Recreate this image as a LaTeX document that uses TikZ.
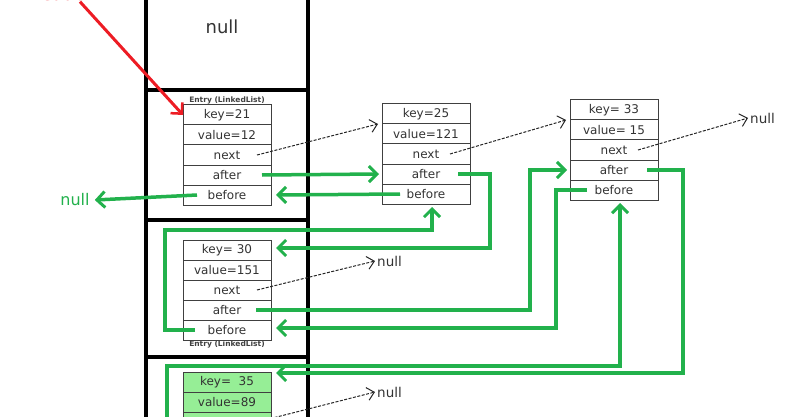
\documentclass[tikz,border=0pt]{standalone}
\usepackage{fontspec}
\setmainfont{DejaVu Sans}
\usetikzlibrary{positioning,calc,arrows.meta}
\usepackage{xcolor}

\definecolor{vertpaint}{RGB}{34,177,76}
\definecolor{vertclair}{RGB}{150,238,150}
\definecolor{rougepaint}{RGB}{237,28,36}

\tikzset{
  cell/.style={draw=black!75, line width=1pt, minimum width=88pt, minimum height=20pt,
    inner sep=0pt, outer sep=0pt, text=black!80, font=\fontsize{12}{12}\selectfont},
  etiq/.style={inner sep=1pt, text=black!75, font=\bfseries\fontsize{7.5}{8}\selectfont},
  nul/.style={inner sep=2pt, text=black!80, font=\fontsize{13.5}{14}\selectfont},
  mur/.style={line width=3.5pt, line cap=rect},
  lien/.style={draw=vertpaint, line width=3.5pt,
    -{Straight Barb[length=8pt,width=16pt,line width=3pt]}},
  suivant/.style={dash pattern=on 3pt off 1.5pt, line width=1pt, draw=black!85,
    -{Straight Barb[length=7pt,width=13pt,line width=1pt]}},
  rouge/.style={draw=rougepaint, line width=3pt,
    -{Straight Barb[length=8pt,width=16pt,line width=2.5pt]}}
}

% une entree : nom, coin, key, value
\newcommand{\entree}[4]{%
  \node[cell, anchor=north west] (#1key) at (#2) {#3};
  \node[cell, below=0pt of #1key] (#1val) {#4};
  \node[cell, below=0pt of #1val] (#1next) {next};
  \node[cell, below=0pt of #1next] (#1aft) {after};
  \node[cell, below=0pt of #1aft] (#1bef) {before};
}

\begin{document}
\begin{tikzpicture}[x=1pt,y=-1pt]
      \useasboundingbox (0,0) rectangle (795,417);
      \clip (0,0) rectangle (795,417);

      % Tableau
      \draw[mur] (146,-5) -- (146,425);
      \draw[mur] (308,-5) -- (308,425);
      \foreach \y in {90,220,357}
        \draw[mur] (146,\y) -- (308,\y);
      \node[text=black!80, font=\fontsize{18}{18}\selectfont] (vide) at (222,27) {null};

      % Entrees
      \entree{e1}{183,105}{key=21}{value=12}
      \entree{e2}{382,104}{key=25}{value=121}
      \entree{e3}{570,100}{key=\ 33}{value=\ 15}
      \entree{e4}{183,240}{key=\ 30}{value=151}
      \node[cell, fill=vertclair, anchor=north west] (e5key) at (183,372) {key=\ \ 35};
      \node[cell, fill=vertclair, below=0pt of e5key] (e5val) {value=89};
      \node[cell, fill=vertclair, below=0pt of e5val] (e5next) {};
      \coordinate (e5arr) at (167,430);

      \node[etiq, above=0pt of e1key] (lab1) {Entry (LinkedList)};
      \node[etiq, below=0pt of e4bef] (lab4) {Entry (LinkedList)};

      % Fins de liste
      \node[nul, text=vertpaint, font=\fontsize{16}{16}\selectfont] (null0) at (75,200) {null};
      \node[nul, anchor=west] (null1) at (748,118) {null};
      \node[nul, anchor=west] (null2) at (375,261) {null};
      \node[nul, anchor=west] (null3) at (375,392) {null};

      % Tete
      \node[text=rougepaint, font=\bfseries\fontsize{16}{16}\selectfont] (tete) at (62,-5) {header};
      \draw[rouge] ([xshift=18pt,yshift=3pt]tete.south) -- (e1key.west);

      % Liens next
      \draw[suivant] ([xshift=-14pt]e1next.east) -- ([xshift=-4pt]e2key.south west);
      \draw[suivant] ([xshift=-20pt]e2next.east) -- ([xshift=-4pt]e3key.south west);
      \draw[suivant] ([xshift=-20pt]e3next.east) -- (null1.west);
      \draw[suivant] ([xshift=-14pt]e4next.east) -- (null2.west);
      \draw[suivant] ([xshift=-14pt]e5next.east) -- (null3.west);

      % Liens after / before
      \draw[lien] ([xshift=14pt]e1bef.west) -- ([xshift=3pt]null0.east);
      \draw[lien] ([xshift=-9pt]e1aft.east) -- ([xshift=-3pt]e2aft.west);
      \draw[lien] ([xshift=18pt]e2bef.west) -- ([xshift=5pt]e1bef.east);
      \draw[lien] ([xshift=-12pt]e2aft.east) -- ++(32,0) |- ([xshift=5pt,yshift=2pt]e4key.east);
      \draw[lien] ([xshift=12pt]e4bef.west) -- ++(-30,0) |- ([xshift=6pt,yshift=-26pt]e2bef.south)
        -- ([xshift=6pt,yshift=-3pt]e2bef.south);
      \draw[lien] ([xshift=-15pt]e4aft.east) -| ([xshift=-40pt]e3aft.west) -- ([xshift=-3pt]e3aft.west);
      \draw[lien] ([xshift=17pt]e3bef.west) -- ++(-31,0) |- ([xshift=5pt,yshift=2pt]e4bef.east);
      \draw[lien] ([xshift=-11pt]e3aft.east) -- ++(36,0) |- ([xshift=5pt,yshift=9pt]e5key.east);
      \draw[lien] (e5arr) |- ([xshift=6pt,yshift=-166pt]e3bef.south) -- ([xshift=6pt,yshift=-3pt]e3bef.south);
\end{tikzpicture}
\end{document}
